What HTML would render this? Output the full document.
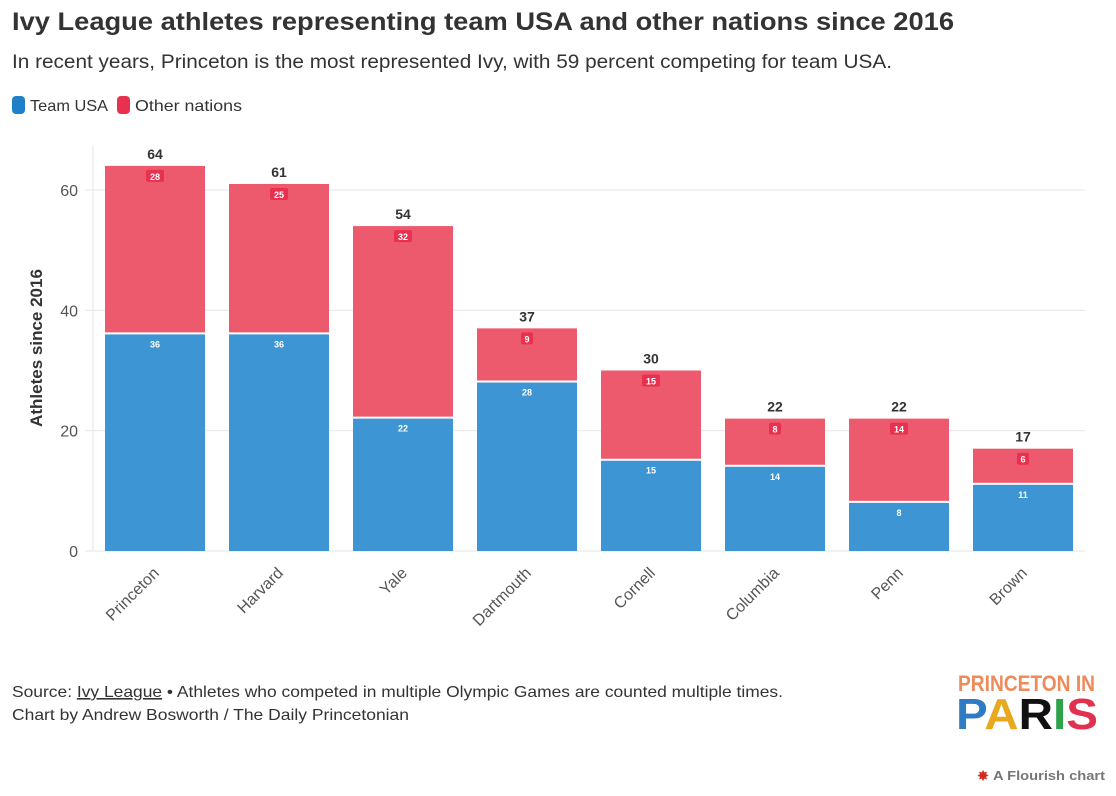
<!DOCTYPE html>
<html><head><meta charset="utf-8"><style>
body{margin:0;background:#fff;}
svg{display:block;font-family:"Liberation Sans",sans-serif;}
</style></head><body>
<svg id="c" width="1116" height="796" viewBox="0 0 1116 796">
<text x="12" y="30" font-size="25" font-weight="bold" fill="#333" textLength="942" lengthAdjust="spacingAndGlyphs">Ivy League athletes representing team USA and other nations since 2016</text>
<text x="12" y="68" font-size="19" fill="#333" textLength="880" lengthAdjust="spacingAndGlyphs">In recent years, Princeton is the most represented Ivy, with 59 percent competing for team USA.</text>
<g>
<g><rect x="12" y="96" width="13" height="18" rx="4" fill="#1f7fc9"/><text x="30" y="111" font-size="16" fill="#333" textLength="78" lengthAdjust="spacingAndGlyphs">Team USA</text></g>
<g><rect x="117" y="96" width="13" height="18" rx="4" fill="#e8304f"/><text x="135" y="111" font-size="16" fill="#333" textLength="107" lengthAdjust="spacingAndGlyphs">Other nations</text></g>
</g>
<g id="plot"></g>
<text transform="translate(42,348) rotate(-90)" text-anchor="middle" font-size="17" font-weight="bold" fill="#333">Athletes since 2016</text>
<text x="12" y="697" font-size="16" fill="#333" textLength="771" lengthAdjust="spacingAndGlyphs">Source: <tspan text-decoration="underline">Ivy League</tspan> • Athletes who competed in multiple Olympic Games are counted multiple times.</text>
<text x="12" y="720" font-size="16" fill="#333" textLength="397" lengthAdjust="spacingAndGlyphs">Chart by Andrew Bosworth / The Daily Princetonian</text>
<g font-weight="bold">
<text x="958" y="691" font-size="22" fill="#ef8a5a" textLength="137" lengthAdjust="spacingAndGlyphs">PRINCETON IN</text>
<text x="956" y="729" font-size="44" textLength="142" lengthAdjust="spacingAndGlyphs"><tspan fill="#2f7cc4">P</tspan><tspan fill="#e8a91e">A</tspan><tspan fill="#111">R</tspan><tspan fill="#2ea24a">I</tspan><tspan fill="#e03150">S</tspan></text>
</g>
<g><text x="983" y="781" font-size="15" fill="#d42a1f" text-anchor="middle">✸</text><text x="993" y="780" font-size="13" font-weight="bold" fill="#777" textLength="112" lengthAdjust="spacingAndGlyphs">A Flourish chart</text></g>
</svg>
<script>
const categories=["Princeton","Harvard","Yale","Dartmouth","Cornell","Columbia","Penn","Brown"];
const usaValues=[36,36,22,28,15,14,8,11];
const otherValues=[28,25,32,9,15,8,14,6];
const yTicks=[0,20,40,60];
const NS="http://www.w3.org/2000/svg";
const g=document.getElementById('plot');
const y0=551, pxPerUnit=6.017;
const yScale=v=>y0-v*pxPerUnit;
const xLeft=93, step=124, barW=100;
const xScale=i=>xLeft+12+i*step;
function el(t,a,p){const e=document.createElementNS(NS,t);for(const k in a)e.setAttribute(k,a[k]);(p||g).appendChild(e);return e;}
for(const t of yTicks){
  const l=el('line',{x1:85,x2:1085,y1:yScale(t),y2:yScale(t),stroke:'#e6e6e6','stroke-width':1});
  
  
  const tx=el('text',{x:78,y:yScale(t)+6,'text-anchor':'end','font-size':16,fill:'#555'});
  tx.textContent=t;
  
  
}
const ax=el('line',{x1:93,x2:93,y1:145,y2:yScale(0),stroke:'#e6e6e6'});


function lbl(cx,cy,v,bg){
  const w=String(v).length*6+6;
  el('rect',{x:cx-w/2,y:cy-6,width:w,height:12,rx:2,fill:bg});
  const t=el('text',{x:cx,y:cy+4,'text-anchor':'middle','font-size':9,'font-weight':'bold',fill:'#fff'});
  t.textContent=v;
  
  
}
categories.forEach((c,i)=>{
  const x=xScale(i), u=usaValues[i], o=otherValues[i], tot=u+o;
  const bu=el('rect',{x:x,y:yScale(u),width:barW,height:yScale(0)-yScale(u),fill:'#3d95d3'});
  
  
  const bo=el('rect',{x:x,y:yScale(tot),width:barW,height:yScale(u)-yScale(tot)-2,fill:'#ee5a6d'});
  
  
  lbl(x+barW/2,yScale(u)+9,u,'#3d95d3');
  lbl(x+barW/2,yScale(tot)+10,o,'#e8304f');
  const tt=el('text',{x:x+barW/2,y:yScale(tot)-7,'text-anchor':'middle','font-size':14,'font-weight':'bold',fill:'#333'});
  tt.textContent=tot;
  
  
  const xl=el('text',{transform:`translate(${x+barW/2+5},${574}) rotate(-45)`,'text-anchor':'end','font-size':16,fill:'#555'});
  xl.textContent=c;
  
  
});
</script>
</body></html>
